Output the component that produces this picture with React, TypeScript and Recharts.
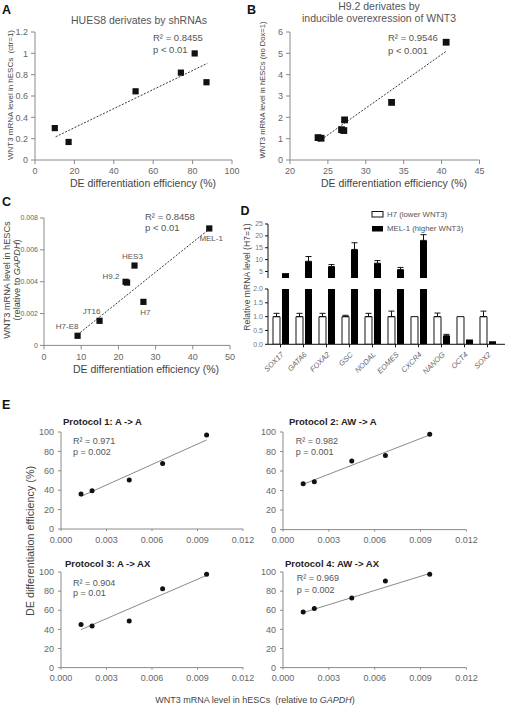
import React from 'react';
import { ScatterChart, Scatter, XAxis, YAxis, BarChart, Bar, ErrorBar } from 'recharts';

const FONT = "'Liberation Sans', Arial, Helvetica, sans-serif";

// ---------- Panel A : HUES8 derivates by shRNAs ----------
const aEfficiency = [10, 17, 51, 74, 81, 87];
const aWnt3 = [0.30, 0.17, 0.645, 0.82, 1.0, 0.73];
const aTrendEff = [10.5, 87.5];
const aTrendWnt3 = [0.218, 0.906];
const aXTicks = [0, 20, 40, 60, 80, 100];
const aYTicks = [0, 0.2, 0.4, 0.6, 0.8, 1, 1.2];

// ---------- Panel B : H9.2 inducible WNT3 ----------
const bEfficiency = [23.7, 24.1, 26.8, 27.1, 27.2, 33.4, 40.6];
const bWnt3 = [1.05, 1.02, 1.42, 1.38, 1.88, 2.7, 5.52];
const bTrendEff = [23.75, 40.7];
const bTrendWnt3 = [0.86, 5.12];
const bXTicks = [20, 25, 30, 35, 40, 45];
const bYTicks = [0, 1, 2, 3, 4, 5, 6];

// ---------- Panel C : cell lines ----------
const cLines = ['MEL-1', 'HES3', 'H9.2', '', 'H7', 'JT16', 'H7-E8'];
const cEfficiency = [44.4, 24.3, 21.9, 22.3, 26.7, 14.9, 9.0];
const cWnt3 = [0.00735, 0.00502, 0.0040, 0.00395, 0.00274, 0.00155, 0.00061];
const cLabelSide = ['below', 'above', 'left', 'none', 'below', 'aboveLeft', 'aboveLeft'];
const cTrendEff = [9.0, 44.4];
const cTrendWnt3 = [0.00067, 0.0073];
const cXTicks = [0, 10, 20, 30, 40, 50];
const cYTicks = [0, 0.002, 0.004, 0.006, 0.008];

// ---------- Panel D : relative mRNA ----------
const dGenes = ['SOX17', 'GATA6', 'FOXA2', 'GSC', 'NODAL', 'EOMES', 'CXCR4', 'NANOG', 'OCT4', 'SOX2'];
const dH7 = [1, 1, 1, 1, 1, 1, 1, 1, 1, 1];
const dH7Err = [0.12, 0.12, 0.12, 0.05, 0.12, 0.2, 0, 0.13, 0, 0.2];
const dMel = [4.3, 9.3, 7.1, 14.3, 8.5, 5.8, 18.1, 0.31, 0.17, 0.11];
const dMelErr = [0, 2.0, 0.8, 2.8, 1.1, 0.9, 2.4, 0.05, 0, 0];
const dUpperTicks = [5, 10, 15, 20, 25];
const dLowerTicks = [0, 0.5, 1, 1.5, 2];
const dBreak = 2;

// ---------- Panel E : protocols ----------
const eWnt3 = [0.00132, 0.00205, 0.0045, 0.0067, 0.0096];
const e1Eff = [36, 39.5, 50.5, 67.5, 97];
const e2Eff = [47, 49, 70.3, 76, 97.6];
const e3Eff = [45, 43.5, 48.7, 82.6, 97.6];
const e4Eff = [58.1, 61.7, 72.8, 90.6, 97.6];
const eTrendWnt3 = [0.00132, 0.0096];
const e1Trend = [33.6, 91.8];
const e2Trend = [46.5, 97];
const e3Trend = [39.7, 96.5];
const e4Trend = [57.5, 98.5];
const eXTicks = [0, 0.003, 0.006, 0.009, 0.012];
const eYTicks = [0, 20, 40, 60, 80, 100];

type Pt = { x: number; y: number; label?: string; side?: string };
const toPts = (xs: number[], ys: number[], labels?: string[], sides?: string[]): Pt[] =>
  xs.map((x, i) => ({ x, y: ys[i], label: labels ? labels[i] : '', side: sides ? sides[i] : '' }));

const SquareMarker = (props: any) => {
  const { cx, cy } = props;
  return <rect x={cx - 3} y={cy - 3} width={6.2} height={6.2} fill="#111" />;
};
const BigSquareMarker = (props: any) => {
  const { cx, cy } = props;
  return <rect x={cx - 3.4} y={cy - 3.4} width={6.8} height={6.8} fill="#111" />;
};
const DotMarker = (props: any) => {
  const { cx, cy } = props;
  return <circle cx={cx} cy={cy} r={2.5} fill="#111" />;
};
const LabeledSquare = (props: any) => {
  const { cx, cy, payload } = props;
  let lbl: React.ReactNode = null;
  if (payload && payload.label) {
    let x = cx;
    let y = cy;
    let anchor: 'middle' | 'end' = 'middle';
    if (payload.side === 'below') { x = cx + 2; y = cy + 10.5; }
    else if (payload.side === 'above') { x = cx - 2; y = cy - 9; }
    else if (payload.side === 'left') { x = cx - 6; y = cy - 5; anchor = 'end'; }
    else if (payload.side === 'aboveLeft') { x = cx + 1; y = cy - 9.5; anchor = 'end'; }
    lbl = (
      <text x={x} y={y} textAnchor={anchor} dominantBaseline="central" fontSize={8} fill="#555" fontFamily={FONT}>
        {payload.label}
      </text>
    );
  }
  return (
    <g>
      <rect x={cx - 3} y={cy - 3} width={6.2} height={6.2} fill="#111" />
      {lbl}
    </g>
  );
};
const NoMarker = () => <g />;

interface PanelProps {
  box: [number, number, number, number];
  xDomain: [number, number];
  yDomain: [number, number];
  xTicks: number[];
  yTicks: number[];
  xFmt?: (v: number) => string;
  yFmt?: (v: number) => string;
  points: Pt[];
  trend: Pt[];
  marker: (p: any) => React.ReactElement;
  trendStroke: string;
  trendDash?: string;
  trendWidth: number;
  tickFont: number;
  yTickFont?: number;
  xTickSize: number;
  xTickMargin: number;
  yTickSize: number;
  yTickMargin: number;
}

function ScatterPanel(p: PanelProps) {
  const [x0, x1, y0, y1] = p.box;
  const padL = 60, padR = 14, padT = 14, padB = 30;
  const axisColor = '#8a8a8a';
  const xtick = { fontSize: p.tickFont, fill: '#666', fontFamily: FONT };
  const ytick = { fontSize: p.yTickFont ?? p.tickFont, fill: '#666', fontFamily: FONT };
  return (
    <div style={{ position: 'absolute', left: x0 - padL, top: y0 - padT }}>
      <ScatterChart
        width={x1 - x0 + padL + padR}
        height={y1 - y0 + padT + padB}
        margin={{ top: padT, right: padR, bottom: 0, left: 0 }}
      >
        <XAxis
          type="number"
          dataKey="x"
          domain={p.xDomain}
          ticks={p.xTicks}
          tickFormatter={p.xFmt}
          interval={0}
          height={padB}
          axisLine={{ stroke: axisColor }}
          tickLine={{ stroke: axisColor }}
          tickSize={p.xTickSize}
          tickMargin={p.xTickMargin}
          tick={xtick}
        />
        <YAxis
          type="number"
          dataKey="y"
          domain={p.yDomain}
          ticks={p.yTicks}
          tickFormatter={p.yFmt}
          interval={0}
          width={padL}
          axisLine={{ stroke: axisColor }}
          tickLine={{ stroke: axisColor }}
          tickSize={p.yTickSize}
          tickMargin={p.yTickMargin}
          tick={ytick}
        />
        <Scatter
          data={p.trend}
          line={{ stroke: p.trendStroke, strokeWidth: p.trendWidth, strokeDasharray: p.trendDash }}
          shape={NoMarker}
          isAnimationActive={false}
        />
        <Scatter data={p.points} shape={p.marker} isAnimationActive={false} />
      </ScatterChart>
    </div>
  );
}

const dRows = dGenes.map((g, i) => ({ gene: g, h7: dH7[i], h7Err: dH7Err[i], mel: dMel[i], melErr: dMelErr[i] }));

const GeneTick = (props: any) => {
  const { x, y, payload } = props;
  const ax = x + 2;
  const ay = y + 4;
  return (
    <text
      x={ax}
      y={ay}
      transform={`rotate(-45 ${ax} ${ay})`}
      textAnchor="end"
      dominantBaseline="central"
      fontSize={7.5}
      fontStyle="italic"
      fill="#666"
      fontFamily={FONT}
    >
      {payload.value}
    </text>
  );
};

function DPanel() {
  const x0 = 268, x1 = 505;
  const uy0 = 223.5, uy1 = 278.1;
  const ly0 = 288.7, ly1 = 344;
  const padL = 40, padR = 4, padT = 6, padB = 40;
  const w = x1 - x0 + padL + padR;
  const tick = { fontSize: 7, fill: '#777', fontFamily: FONT };
  const xPad = { left: 1, right: 6 };
  return (
    <>
      <div style={{ position: 'absolute', left: x0 - padL, top: uy0 - padT }}>
        <BarChart
          width={w}
          height={uy1 - uy0 + padT}
          data={dRows}
          margin={{ top: padT, right: padR, bottom: 0, left: 0 }}
          barSize={7}
          barGap={2}
        >
          <XAxis dataKey="gene" hide padding={xPad} />
          <YAxis
            type="number"
            domain={[dBreak, 25]}
            ticks={dUpperTicks}
            interval={0}
            allowDataOverflow
            width={padL}
            axisLine={{ stroke: '#111' }}
            tickLine={{ stroke: '#111' }}
            tickSize={3}
            tickMargin={2}
            tick={tick}
          />
          <Bar dataKey={(d: any) => Math.max(d.h7, dBreak)} fill="#fff" stroke="#111" strokeWidth={1} isAnimationActive={false} />
          <Bar dataKey={(d: any) => Math.max(d.mel, dBreak)} fill="#000" isAnimationActive={false}>
            <ErrorBar
              dataKey={(d: any) => (d.mel > dBreak && d.melErr > 0 ? [0, d.melErr] : null)}
              width={3}
              stroke="#111"
              strokeWidth={1}
              direction="y"
            />
          </Bar>
        </BarChart>
      </div>
      <div style={{ position: 'absolute', left: x0 - padL, top: ly0 - padT }}>
        <BarChart
          width={w}
          height={ly1 - ly0 + padT + padB}
          data={dRows}
          margin={{ top: padT, right: padR, bottom: 0, left: 0 }}
          barSize={7}
          barGap={2}
        >
          <XAxis
            dataKey="gene"
            padding={xPad}
            height={padB}
            interval={0}
            axisLine={{ stroke: '#111' }}
            tickLine={{ stroke: '#111' }}
            tickSize={3}
            tickMargin={2}
            tick={<GeneTick />}
          />
          <YAxis
            type="number"
            domain={[0, dBreak]}
            ticks={dLowerTicks}
            interval={0}
            allowDataOverflow
            tickFormatter={(v: number) => v.toFixed(1)}
            width={padL}
            axisLine={{ stroke: '#111' }}
            tickLine={{ stroke: '#111' }}
            tickSize={3}
            tickMargin={2}
            tick={tick}
          />
          <Bar dataKey="h7" fill="#fff" stroke="#111" strokeWidth={1} isAnimationActive={false}>
            <ErrorBar
              dataKey={(d: any) => (d.h7Err > 0 ? [0, d.h7Err] : null)}
              width={3}
              stroke="#111"
              strokeWidth={1}
              direction="y"
            />
          </Bar>
          <Bar dataKey={(d: any) => Math.min(d.mel, dBreak)} fill="#000" isAnimationActive={false}>
            <ErrorBar
              dataKey={(d: any) => (d.mel < dBreak && d.melErr > 0 ? [0, d.melErr] : null)}
              width={3}
              stroke="#111"
              strokeWidth={1}
              direction="y"
            />
          </Bar>
        </BarChart>
      </div>
    </>
  );
}

const fmtA = (v: number) => String(+v.toFixed(1));
const fmtC = (v: number) => (v === 0 ? '0' : v.toFixed(3));
const fmtE = (v: number) => v.toFixed(3);

function Overlay() {
  const T = (props: any) => <text fontFamily={FONT} dominantBaseline="central" {...props} />;
  const letter = { fontSize: 12.5, fontWeight: 'bold', fill: '#111' };
  const ann = { fontSize: 9.5, fill: '#555' };
  const axl = { fontSize: 10.5, fill: '#444' };
  const etitle = { fontSize: 9.5, fontWeight: 'bold', fill: '#222' };
  const eann = { fontSize: 9, fill: '#555' };
  return (
    <svg width={506} height={706} style={{ position: 'absolute', left: 0, top: 0, pointerEvents: 'none' }}>
      {/* letters */}
      <T x={2} y={10} {...letter}>A</T>
      <T x={247} y={10} {...letter}>B</T>
      <T x={2} y={202} {...letter}>C</T>
      <T x={240.5} y={211} {...letter}>D</T>
      <T x={2} y={405} {...letter}>E</T>

      {/* A */}
      <T x={139} y={20} textAnchor="middle" fontSize={10.5} fill="#555">HUES8 derivates by shRNAs</T>
      <T x={153} y={37} {...ann}>R² = 0.8455</T>
      <T x={153} y={49} {...ann}>p &lt; 0.01</T>
      <T x={143} y={183} textAnchor="middle" {...axl}>DE differentiation efficiency (%)</T>
      <T x={10} y={95} textAnchor="middle" fontSize={8} fill="#444" transform="rotate(-90 10 95)" style={{ whiteSpace: 'pre' }}>
        {'WNT3 mRNA level in hESCs  (ctr=1)'}
      </T>

      {/* B */}
      <T x={379} y={5.5} textAnchor="middle" fontSize={10.5} fill="#555">H9.2 derivates by</T>
      <T x={379} y={17.5} textAnchor="middle" fontSize={10.5} fill="#555">inducible overexression of WNT3</T>
      <T x={388} y={37} {...ann}>R² = 0.9546</T>
      <T x={388} y={50} {...ann}>p &lt; 0.001</T>
      <T x={394} y={183} textAnchor="middle" {...axl}>DE differentiation efficiency (%)</T>
      <T x={262.5} y={90} textAnchor="middle" fontSize={7.6} fill="#444" transform="rotate(-90 262.5 90)">
        WNT3 mRNA level in hESCs (no Dox=1)
      </T>

      {/* C */}
      <T x={145} y={216} {...ann}>R² = 0.8458</T>
      <T x={145} y={227.3} {...ann}>p &lt; 0.01</T>
      <T x={146} y={369} textAnchor="middle" {...axl}>DE differentiation efficiency (%)</T>
      <T x={7} y={280} textAnchor="middle" fontSize={9.2} fill="#444" transform="rotate(-90 7 280)">
        WNT3 mRNA level in hESCs
      </T>
      <T x={16.5} y={280} textAnchor="middle" fontSize={9.2} fill="#444" transform="rotate(-90 16.5 280)">
        (relative to <tspan fontStyle="italic">GAPDH</tspan>)
      </T>

      {/* D */}
      <T x={247} y={277} textAnchor="middle" fontSize={8.6} fill="#444" transform="rotate(-90 247 277)">
        Relative mRNA level (H7=1)
      </T>
      <rect x={372} y={211.5} width={11} height={5.5} fill="#fff" stroke="#111" strokeWidth={1} />
      <T x={387} y={214.2} fontSize={7.8} fill="#555">H7 (lower WNT3)</T>
      <rect x={372} y={226} width={11} height={5.5} fill="#000" />
      <T x={387} y={228.7} fontSize={7.8} fill="#555">MEL-1 (higher WNT3)</T>

      {/* E */}
      <T x={63} y={421.7} {...etitle}>Protocol 1: A -&gt; A</T>
      <T x={289} y={421.7} {...etitle}>Protocol 2: AW -&gt; A</T>
      <T x={65} y={563.3} {...etitle}>Protocol 3: A -&gt; AX</T>
      <T x={285} y={563.3} {...etitle}>Protocol 4: AW -&gt; AX</T>
      <T x={73} y={440.7} {...eann}>R² = 0.971</T>
      <T x={73} y={451.7} {...eann}>p = 0.002</T>
      <T x={295.7} y={440.7} {...eann}>R² = 0.982</T>
      <T x={295.7} y={451.7} {...eann}>p = 0.001</T>
      <T x={73} y={582.7} {...eann}>R² = 0.904</T>
      <T x={73} y={593.3} {...eann}>p = 0.01</T>
      <T x={296.7} y={578.3} {...eann}>R² = 0.969</T>
      <T x={296.7} y={590} {...eann}>p = 0.002</T>
      <T x={30} y={541} textAnchor="middle" fontSize={10.8} fill="#444" transform="rotate(-90 30 541)">
        DE differentiation efficiency (%)
      </T>
      <T x={255} y={700} textAnchor="middle" fontSize={9} fill="#444" style={{ whiteSpace: 'pre' }}>
        {'WNT3 mRNA level in hESCs  (relative to '}
        <tspan fontStyle="italic">GAPDH</tspan>
        {')'}
      </T>
    </svg>
  );
}

export default function App() {
  const dotted = { trendStroke: '#222', trendDash: '2 1.5', trendWidth: 0.9 };
  const solid = { trendStroke: '#8a8a8a', trendWidth: 1 };
  const ticksABC = { tickFont: 9, xTickSize: 4, xTickMargin: 4, yTickSize: 4, yTickMargin: 3 };
  const ticksE = { tickFont: 9, xTickSize: 2, xTickMargin: 5.5, yTickSize: 3, yTickMargin: 4 };
  const eTrendPts = (ys: number[]) => toPts(eTrendWnt3, ys);
  return (
    <div style={{ position: 'absolute', left: 0, top: 0, width: 506, height: 706, background: '#fff', overflow: 'hidden', fontFamily: FONT }}>
      <ScatterPanel
        box={[35, 232, 32, 160]}
        xDomain={[0, 100]}
        yDomain={[0, 1.2]}
        xTicks={aXTicks}
        yTicks={aYTicks}
        yFmt={fmtA}
        points={toPts(aEfficiency, aWnt3)}
        trend={toPts(aTrendEff, aTrendWnt3)}
        marker={SquareMarker}
        {...dotted}
        {...ticksABC}
      />
      <ScatterPanel
        box={[289.5, 479, 32, 160]}
        xDomain={[20, 45]}
        yDomain={[0, 6]}
        xTicks={bXTicks}
        yTicks={bYTicks}
        points={toPts(bEfficiency, bWnt3)}
        trend={toPts(bTrendEff, bTrendWnt3)}
        marker={BigSquareMarker}
        {...dotted}
        {...ticksABC}
      />
      <ScatterPanel
        box={[44, 230, 218.3, 345.7]}
        xDomain={[0, 50]}
        yDomain={[0, 0.008]}
        xTicks={cXTicks}
        yTicks={cYTicks}
        yFmt={fmtC}
        points={toPts(cEfficiency, cWnt3, cLines, cLabelSide)}
        trend={toPts(cTrendEff, cTrendWnt3)}
        marker={LabeledSquare}
        {...dotted}
        {...ticksABC}
        yTickFont={7}
        yTickMargin={2}
      />
      <DPanel />
      <ScatterPanel
        box={[61, 243, 432.3, 529.3]}
        xDomain={[0, 0.012]}
        yDomain={[0, 100]}
        xTicks={eXTicks}
        yTicks={eYTicks}
        xFmt={fmtE}
        points={toPts(eWnt3, e1Eff)}
        trend={eTrendPts(e1Trend)}
        marker={DotMarker}
        {...solid}
        {...ticksE}
      />
      <ScatterPanel
        box={[283.3, 466.7, 431.7, 529.3]}
        xDomain={[0, 0.012]}
        yDomain={[0, 100]}
        xTicks={eXTicks}
        yTicks={eYTicks}
        xFmt={fmtE}
        points={toPts(eWnt3, e2Eff)}
        trend={eTrendPts(e2Trend)}
        marker={DotMarker}
        {...solid}
        {...ticksE}
      />
      <ScatterPanel
        box={[61, 243, 571.7, 667.3]}
        xDomain={[0, 0.012]}
        yDomain={[0, 100]}
        xTicks={eXTicks}
        yTicks={eYTicks}
        xFmt={fmtE}
        points={toPts(eWnt3, e3Eff)}
        trend={eTrendPts(e3Trend)}
        marker={DotMarker}
        {...solid}
        {...ticksE}
      />
      <ScatterPanel
        box={[283.3, 466.7, 571.7, 667.3]}
        xDomain={[0, 0.012]}
        yDomain={[0, 100]}
        xTicks={eXTicks}
        yTicks={eYTicks}
        xFmt={fmtE}
        points={toPts(eWnt3, e4Eff)}
        trend={eTrendPts(e4Trend)}
        marker={DotMarker}
        {...solid}
        {...ticksE}
      />
      <Overlay />
    </div>
  );
}
